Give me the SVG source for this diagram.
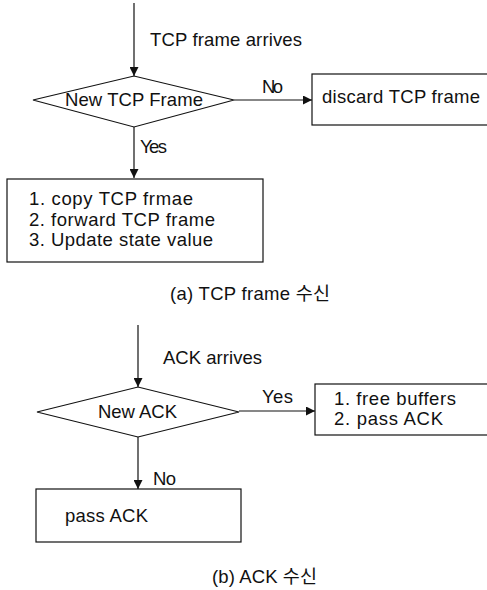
<svg xmlns="http://www.w3.org/2000/svg" width="487" height="590" viewBox="0 0 487 590">
<style>
.ln{stroke:#111;stroke-width:1.2;fill:none}
.nd{stroke:#111;stroke-width:1.2;fill:#fff}
text{font-family:"Liberation Sans","Noto Sans CJK KR",sans-serif;font-size:18.5px;fill:#111}
</style>
<defs>
<marker id="ah" viewBox="0 0 10 10" refX="10" refY="5" markerWidth="9" markerHeight="9" markerUnits="userSpaceOnUse" orient="auto">
<path d="M0,0 L10,5 L0,10 Z" fill="#111"/>
</marker>
</defs>
<rect width="487" height="590" fill="#fff"/>
<g id="connectors">
<line class="ln" x1="134" y1="3" x2="134" y2="76" marker-end="url(#ah)"/>
<line class="ln" x1="234" y1="100" x2="312" y2="100" marker-end="url(#ah)"/>
<line class="ln" x1="134" y1="127" x2="134" y2="178" marker-end="url(#ah)"/>
<line class="ln" x1="138" y1="325" x2="138" y2="387" marker-end="url(#ah)"/>
<line class="ln" x1="239" y1="411" x2="315" y2="411" marker-end="url(#ah)"/>
<line class="ln" x1="138" y1="437" x2="138" y2="489" marker-end="url(#ah)"/>
<text x="150" y="46" textLength="152" lengthAdjust="spacing">TCP frame arrives</text>
<text x="262" y="93" textLength="21" lengthAdjust="spacing">No</text>
<text x="140" y="153" textLength="27" lengthAdjust="spacing">Yes</text>
<text x="163" y="364" textLength="99" lengthAdjust="spacing">ACK arrives</text>
<text x="262" y="403" textLength="31" lengthAdjust="spacing">Yes</text>
<text x="153" y="485" textLength="23" lengthAdjust="spacing">No</text>
</g>
<g id="decision-a">
<polygon class="nd" points="33,100 134,76 234,100 134,127"/>
<text x="65" y="106" textLength="138" lengthAdjust="spacing">New TCP Frame</text>
</g>
<g id="discard">
<rect class="nd" x="312" y="74" width="180" height="51"/>
<text x="322" y="103" textLength="158" lengthAdjust="spacing">discard TCP frame</text>
</g>
<g id="process-a">
<rect class="nd" x="7" y="179" width="256" height="83"/>
<text x="29" y="205" textLength="164" lengthAdjust="spacing">1. copy TCP frmae</text>
<text x="29" y="226" textLength="186" lengthAdjust="spacing">2. forward TCP frame</text>
<text x="29" y="246" textLength="184" lengthAdjust="spacing">3. Update state value</text>
</g>
<g id="caption-a">
<text x="170" y="300" textLength="160" lengthAdjust="spacing">(a) TCP frame 수신</text>
</g>
<g id="decision-b">
<polygon class="nd" points="37,412 138,387 239,412 138,437"/>
<text x="98" y="418" textLength="79" lengthAdjust="spacing">New ACK</text>
</g>
<g id="process-yes">
<rect class="nd" x="315" y="384" width="180" height="51"/>
<text x="334" y="405" textLength="122" lengthAdjust="spacing">1. free buffers</text>
<text x="334" y="425" textLength="109" lengthAdjust="spacing">2. pass ACK</text>
</g>
<g id="process-no">
<rect class="nd" x="36" y="489" width="205" height="53"/>
<text x="65" y="522" textLength="83" lengthAdjust="spacing">pass ACK</text>
</g>
<g id="caption-b">
<text x="212" y="583" textLength="105" lengthAdjust="spacing">(b) ACK 수신</text>
</g>
</svg>
